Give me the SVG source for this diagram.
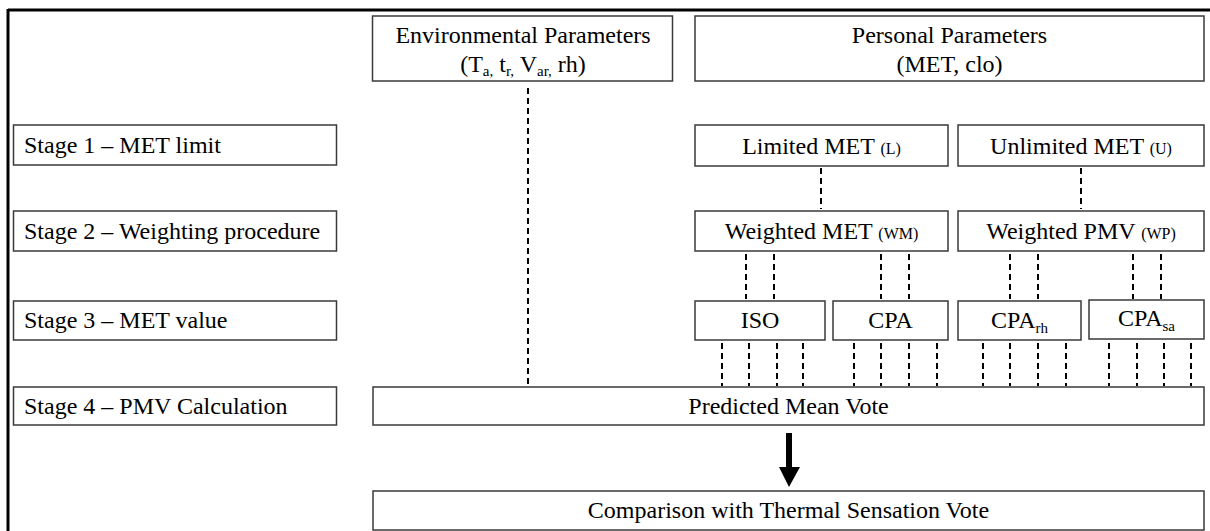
<svg xmlns="http://www.w3.org/2000/svg" width="1210" height="531" viewBox="0 0 1210 531">
<style>
.box{fill:#fff;stroke:#3a3a3a;stroke-width:1.5}
.t{font-family:'Liberation Serif','Tinos','DejaVu Serif',serif;font-size:24px;fill:#000}
.s{font-size:16px}
.sub{font-size:15px}
.c{text-anchor:middle}
.d{stroke:#000;stroke-width:2;stroke-dasharray:6 4;fill:none}
</style>
<rect width="1210" height="531" fill="#fff"/>
<g id="frame">
<line x1="8" y1="10" x2="1210" y2="10" stroke="#000" stroke-width="3"/>
<line x1="8" y1="9" x2="8" y2="531" stroke="#000" stroke-width="3"/>
</g>
<g id="connectors">
<line class="d" x1="528" y1="88" x2="528" y2="385"/>
<line class="d" x1="821" y1="168" x2="821" y2="209"/>
<line class="d" x1="1081" y1="168" x2="1081" y2="209"/>
<line class="d" x1="746" y1="254" x2="746" y2="299"/>
<line class="d" x1="774" y1="254" x2="774" y2="299"/>
<line class="d" x1="881" y1="254" x2="881" y2="299"/>
<line class="d" x1="909" y1="254" x2="909" y2="299"/>
<line class="d" x1="1010" y1="254" x2="1010" y2="299"/>
<line class="d" x1="1038" y1="254" x2="1038" y2="299"/>
<line class="d" x1="1133" y1="254" x2="1133" y2="299"/>
<line class="d" x1="1161" y1="254" x2="1161" y2="299"/>
<line class="d" x1="722" y1="343" x2="722" y2="386"/>
<line class="d" x1="749" y1="343" x2="749" y2="386"/>
<line class="d" x1="777" y1="343" x2="777" y2="386"/>
<line class="d" x1="803" y1="343" x2="803" y2="386"/>
<line class="d" x1="854" y1="343" x2="854" y2="386"/>
<line class="d" x1="881" y1="343" x2="881" y2="386"/>
<line class="d" x1="909" y1="343" x2="909" y2="386"/>
<line class="d" x1="937" y1="343" x2="937" y2="386"/>
<line class="d" x1="983" y1="343" x2="983" y2="386"/>
<line class="d" x1="1010" y1="343" x2="1010" y2="386"/>
<line class="d" x1="1038" y1="343" x2="1038" y2="386"/>
<line class="d" x1="1066" y1="343" x2="1066" y2="386"/>
<line class="d" x1="1109" y1="343" x2="1109" y2="386"/>
<line class="d" x1="1137" y1="343" x2="1137" y2="386"/>
<line class="d" x1="1164" y1="343" x2="1164" y2="386"/>
<line class="d" x1="1191" y1="343" x2="1191" y2="386"/>
<path d="M786 433 H792 V467 H800 L789 487 L779 467 H786 Z" fill="#000"/>
</g>
<g id="env">
<rect class="box" x="372.5" y="16" width="300" height="65"/>
<text class="t c" x="523" y="43">Environmental Parameters</text>
<text class="t c" x="523" y="72">(T<tspan class="sub" dy="4">a,</tspan><tspan dy="-4"> t</tspan><tspan class="sub" dy="4">r,</tspan><tspan dy="-4"> V</tspan><tspan class="sub" dy="4">ar,</tspan><tspan dy="-4"> rh)</tspan></text>
</g>
<g id="personal">
<rect class="box" x="695" y="16" width="509" height="65"/>
<text class="t c" x="949.5" y="43">Personal Parameters</text>
<text class="t c" x="949.5" y="72">(MET, clo)</text>
</g>
<g id="stage1">
<rect class="box" x="13.5" y="125" width="323" height="40"/>
<text class="t" x="24" y="153">Stage 1 – MET limit</text>
</g>
<g id="stage2">
<rect class="box" x="13.5" y="211" width="323" height="40"/>
<text class="t" x="24" y="239">Stage 2 – Weighting procedure</text>
</g>
<g id="stage3">
<rect class="box" x="13.5" y="301" width="323" height="39"/>
<text class="t" x="24" y="328">Stage 3 – MET value</text>
</g>
<g id="stage4">
<rect class="box" x="13.5" y="387" width="323" height="38"/>
<text class="t" x="24" y="414">Stage 4 – PMV Calculation</text>
</g>
<g id="limited">
<rect class="box" x="695" y="125" width="253" height="41"/>
<text class="t c" x="821.5" y="154">Limited MET <tspan class="s">(L)</tspan></text>
</g>
<g id="unlimited">
<rect class="box" x="958" y="125" width="246" height="41"/>
<text class="t c" x="1081" y="154">Unlimited MET <tspan class="s">(U)</tspan></text>
</g>
<g id="wm">
<rect class="box" x="695" y="211" width="253" height="40"/>
<text class="t c" x="821.5" y="239">Weighted MET <tspan class="s">(WM)</tspan></text>
</g>
<g id="wp">
<rect class="box" x="958" y="211" width="246" height="40"/>
<text class="t c" x="1081" y="239">Weighted PMV <tspan class="s">(WP)</tspan></text>
</g>
<g id="iso">
<rect class="box" x="695" y="301" width="130" height="39"/>
<text class="t c" x="760" y="328">ISO</text>
</g>
<g id="cpa">
<rect class="box" x="833" y="301" width="115" height="39"/>
<text class="t c" x="890.5" y="328">CPA</text>
</g>
<g id="cparh">
<rect class="box" x="958" y="301" width="123" height="39"/>
<text class="t c" x="1019.5" y="328">CPA<tspan class="sub" dy="5">rh</tspan></text>
</g>
<g id="cpasa">
<rect class="box" x="1089" y="300" width="115" height="39"/>
<text class="t c" x="1146.5" y="326">CPA<tspan class="sub" dy="5">sa</tspan></text>
</g>
<g id="pmv">
<rect class="box" x="373" y="387" width="831" height="38"/>
<text class="t c" x="788.5" y="414">Predicted Mean Vote</text>
</g>
<g id="tsv">
<rect class="box" x="373" y="491" width="831" height="39"/>
<text class="t c" x="788.5" y="518">Comparison with Thermal Sensation Vote</text>
</g>
</svg>
